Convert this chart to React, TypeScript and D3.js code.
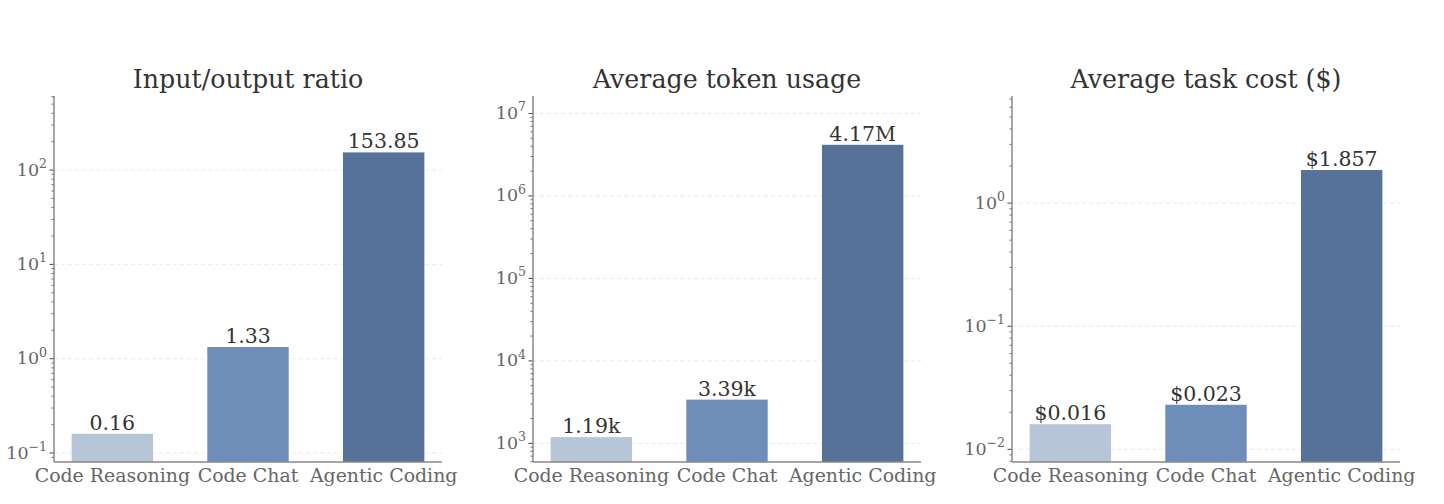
import React from "react"
import * as d3 from "d3"

// categories shared by all three panels
const categories = ["Code Reasoning", "Code Chat", "Agentic Coding"]
const barColors = ["#b4c3d7", "#6a89b7", "#516d95"]

// panel values
const ratioValues = [0.16, 1.33, 153.85]
const ratioLabels = ["0.16", "1.33", "153.85"]
const tokenValues = [1190, 3390, 4170000]
const tokenLabels = ["1.19k", "3.39k", "4.17M"]
const costValues = [0.016, 0.023, 1.857]
const costLabels = ["$0.016", "$0.023", "$1.857"]

const titles = ["Input/output ratio", "Average token usage", "Average task cost ($)"]
const majorExps = [[-1, 0, 1, 2], [3, 4, 5, 6, 7], [-2, -1, 0]]
const yDomains: [number, number][] = [
  [Math.pow(10, -1.095), Math.pow(10, 2.785)],
  [Math.pow(10, 2.774), Math.pow(10, 7.212)],
  [Math.pow(10, -2.103), Math.pow(10, 0.87)],
]

const W = 1444, H = 504
const FONT = "'DejaVu Serif', serif"
const top = 96, bottom = 462
const panelLefts = [54, 533, 1012]
const panelWidth = 388

function Panel(props: { idx: number; values: number[]; labels: string[] }) {
  const { idx, values, labels } = props
  const left = panelLefts[idx]
  const right = left + panelWidth
  const x = d3.scaleLinear().domain([-0.43, 2.43]).range([left, right])
  const y = d3.scaleLog().domain(yDomains[idx]).range([bottom, top])
  const [lo, hi] = yDomains[idx]
  // minor ticks 2..9 per decade inside domain
  const minors: number[] = []
  for (let e = Math.floor(Math.log10(lo)); e <= Math.ceil(Math.log10(hi)); e++) {
    for (let m = 2; m <= 9; m++) {
      const v = m * Math.pow(10, e)
      if (v >= lo && v <= hi) minors.push(v)
    }
  }
  const majors = majorExps[idx]
  return (
    <g>
      <text x={(left + right) / 2} y={88} textAnchor="middle" fontSize={25.3} fill="#333" fontFamily={FONT}>
        {titles[idx]}
      </text>
      {majors.map((e) => (
        <line key={"g" + e} x1={left} x2={right} y1={y(Math.pow(10, e))} y2={y(Math.pow(10, e))}
          stroke="#e3e3e3" strokeWidth={0.8} strokeDasharray="4,3" />
      ))}
      {values.map((v, i) => (
        <rect key={"b" + i} x={x(i - 0.3)} width={x(0.6) - x(0)} y={y(v)} height={bottom - y(v)}
          fill={barColors[i]} opacity={0.97} />
      ))}
      {values.map((v, i) => (
        <text key={"l" + i} x={x(i)} y={y(v) - 4} textAnchor="middle" fontSize={20.5} fill="#333" fontFamily={FONT}>
          {labels[i]}
        </text>
      ))}
      {categories.map((c, i) => (
        <text key={"c" + i} x={x(i)} y={482} textAnchor="middle" fontSize={18.9} fill="#666" fontFamily={FONT}>
          {c}
        </text>
      ))}
      {minors.map((v, i) => (
        <line key={"m" + i} x1={left - 2.5} x2={left} y1={y(v)} y2={y(v)} stroke="#444" strokeWidth={0.8} />
      ))}
      {majors.map((e) => (
        <g key={"t" + e}>
          <line x1={left - 4.5} x2={left} y1={y(Math.pow(10, e))} y2={y(Math.pow(10, e))} stroke="#444" strokeWidth={1} />
          <text x={left - 7} y={y(Math.pow(10, e)) + 5.5} textAnchor="end" fontSize={17.5} fill="#666" fontFamily={FONT}>
            10<tspan dy={-7.5} fontSize={12.5}>{e < 0 ? "\u2212" + Math.abs(e) : String(e)}</tspan>
          </text>
        </g>
      ))}
      <line x1={left} x2={left} y1={top} y2={bottom} stroke="#888" strokeWidth={1.5} />
      <line x1={left} x2={right} y1={bottom} y2={bottom} stroke="#888" strokeWidth={1.5} />
    </g>
  )
}

export default function App() {
  return (
    <svg width={W} height={H} style={{ position: "absolute", left: 0, top: 0, background: "#fff" }}>
      <Panel idx={0} values={ratioValues} labels={ratioLabels} />
      <Panel idx={1} values={tokenValues} labels={tokenLabels} />
      <Panel idx={2} values={costValues} labels={costLabels} />
    </svg>
  )
}
